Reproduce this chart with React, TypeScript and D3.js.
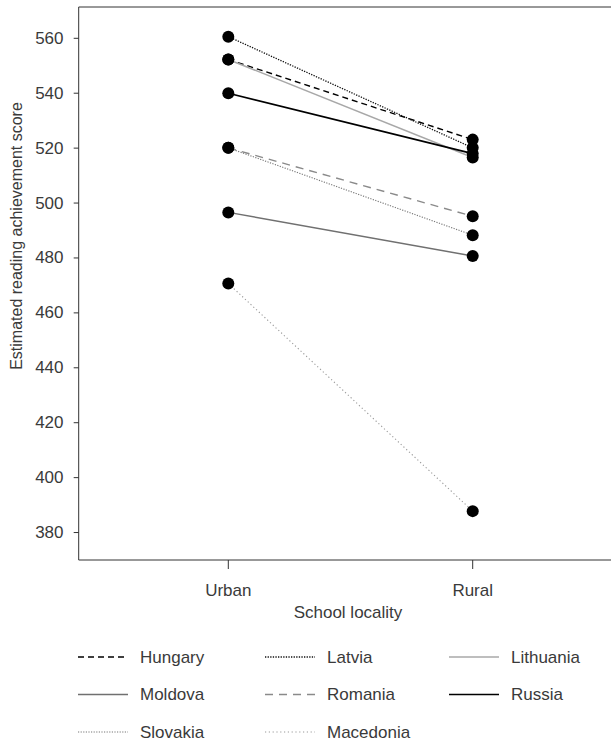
import React from "react";
import * as d3 from "d3";

const categories = ["Urban", "Rural"];
const countries = ["Hungary", "Latvia", "Lithuania", "Moldova", "Romania", "Russia", "Slovakia", "Macedonia"];
const urbanScores = [552.3, 560.6, 552.3, 496.6, 520.1, 540.0, 520.1, 470.7];
const ruralScores = [523.1, 520.1, 516.6, 480.7, 495.2, 518.0, 488.3, 387.8];
const yTicks = [380, 400, 420, 440, 460, 480, 500, 520, 540, 560];

const styles: Record<string, { stroke: string; width: number; dash: string }> = {
  Hungary: { stroke: "#000", width: 1.4, dash: "6,4" },
  Latvia: { stroke: "#111", width: 1.3, dash: "1.3,1.3" },
  Lithuania: { stroke: "#a8a8a8", width: 1.6, dash: "" },
  Moldova: { stroke: "#707070", width: 1.4, dash: "" },
  Romania: { stroke: "#8a8a8a", width: 1.4, dash: "8,6" },
  Russia: { stroke: "#000", width: 1.7, dash: "" },
  Slovakia: { stroke: "#777", width: 1.1, dash: "1.2,1.4" },
  Macedonia: { stroke: "#999", width: 1.1, dash: "1.2,2.6" },
};

const W = 611;
const H = 745;
const left = 78.7;
const top = 7;
const bottom = 560;
const textColor = "#3a3a3a";
const font = "'Liberation Sans', Arial, Helvetica, sans-serif";

export default function App() {
  const y = d3.scaleLinear().domain([370, 571.4]).range([bottom, top]);
  const x = d3.scalePoint<string>().domain(categories).range([228.3, 472.7]);
  const legendCols = [78, 265, 449];
  const legendRows = [657, 694.5, 732];

  return (
    <svg width={W} height={H} style={{ position: "absolute", left: 0, top: 0, background: "#fff" }} fontFamily={font}>
      {/* frame */}
      <line x1={left} x2={W} y1={top} y2={top} stroke="#333" strokeWidth={1} />
      <line x1={left} x2={W} y1={bottom} y2={bottom} stroke="#333" strokeWidth={1} />
      <line x1={left} x2={left} y1={top} y2={bottom} stroke="#333" strokeWidth={1} />
      {/* y ticks */}
      {yTicks.map((t) => (
        <g key={t}>
          <line x1={left - 5} x2={left} y1={y(t)} y2={y(t)} stroke="#333" />
          <text x={63.5} y={y(t)} textAnchor="end" dominantBaseline="central" fontSize={17} fill={textColor}>
            {t}
          </text>
        </g>
      ))}
      {/* x ticks */}
      {categories.map((c) => (
        <g key={c}>
          <line x1={x(c)} x2={x(c)} y1={bottom} y2={bottom + 9} stroke="#333" />
          <text x={x(c)} y={590} textAnchor="middle" dominantBaseline="central" fontSize={17} fill={textColor}>
            {c}
          </text>
        </g>
      ))}
      <text x={348} y={612} textAnchor="middle" dominantBaseline="central" fontSize={17} fill={textColor}>
        School locality
      </text>
      <text
        transform={`translate(16,236) rotate(-90)`}
        textAnchor="middle"
        dominantBaseline="central"
        fontSize={16}
        fill={textColor}
      >
        Estimated reading achievement score
      </text>
      {/* lines */}
      {countries.map((c, i) => (
        <line
          key={c}
          x1={x("Urban")}
          x2={x("Rural")}
          y1={y(urbanScores[i])}
          y2={y(ruralScores[i])}
          stroke={styles[c].stroke}
          strokeWidth={styles[c].width}
          strokeDasharray={styles[c].dash || undefined}
        />
      ))}
      {/* dots */}
      {countries.map((c, i) => (
        <g key={c + "d"}>
          <circle cx={x("Urban")} cy={y(urbanScores[i])} r={6} fill="#000" />
          <circle cx={x("Rural")} cy={y(ruralScores[i])} r={6} fill="#000" />
        </g>
      ))}
      {/* legend */}
      {countries.map((c, i) => {
        const lx = legendCols[i % 3];
        const ly = legendRows[Math.floor(i / 3)];
        return (
          <g key={c + "l"}>
            <line
              x1={lx}
              x2={lx + 50}
              y1={ly}
              y2={ly}
              stroke={styles[c].stroke}
              strokeWidth={styles[c].width}
              strokeDasharray={styles[c].dash || undefined}
            />
            <text x={lx + 62} y={ly} dominantBaseline="central" fontSize={17} fill={textColor}>
              {c}
            </text>
          </g>
        );
      })}
    </svg>
  );
}
